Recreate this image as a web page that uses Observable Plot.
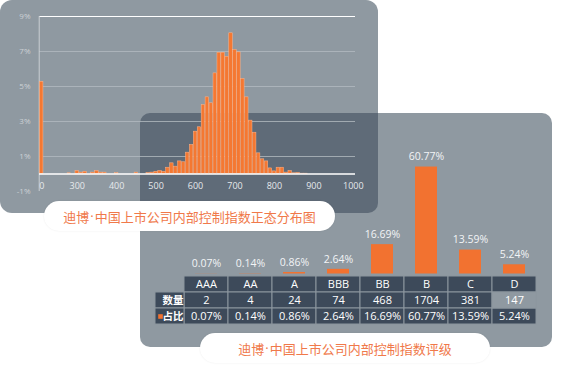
<!DOCTYPE html>
<html>
<head>
<meta charset="utf-8">
<script src="https://cdn.jsdelivr.net/npm/d3@7"></script>
<script src="https://cdn.jsdelivr.net/npm/@observablehq/plot@0.6"></script>
<style>
  html, body { margin: 0; padding: 0; }
  body { width: 581px; height: 370px; position: relative; background: #ffffff; overflow: hidden;
         font-family: "Open Sans", "Noto Sans", sans-serif; }
  .abs { position: absolute; }
  .pill { position: absolute; background: #ffffff; border-radius: 15px; height: 30px;
          display: flex; align-items: center; justify-content: center;
          font-family: "Noto Sans CJK SC", sans-serif; font-size: 13px; color: #f0794a;
          box-shadow: 0 0 2px rgba(0,0,0,0.08); }
  .dot { font-family: "Open Sans", sans-serif; padding: 0 1px; }
</style>
</head>
<body>
<div class="abs" style="left:140px;top:113px;width:412px;height:234px;border-radius:10px;background:#8f99a1"></div>
<div class="abs" style="left:0;top:0;width:378px;height:213px;border-radius:12px;background:#8f99a1"></div>
<div class="abs" style="left:140px;top:113px;width:238px;height:100px;border-radius:10px 0 10px 0;background:#5f6b78"></div>
<div id="hist" class="abs" style="left:0;top:0"></div>
<div id="bars" class="abs" style="left:140px;top:113px"></div>
<div id="table" class="abs" style="left:140px;top:275px"></div>
<div class="pill" style="left:44px;top:201px;width:291px">迪博<span class="dot">·</span>中国上市公司内部控制指数正态分布图</div>
<div class="pill" style="left:200px;top:333px;width:290px">迪博<span class="dot">·</span>中国上市公司内部控制指数评级</div>
<script>
// ---------- Histogram data (score bins, % of companies) ----------
const histBins = [0, 220, 230, 240, 250, 260, 270, 280, 290, 300, 310, 320, 330, 340, 350, 360, 370, 380, 390,
  400, 410, 420, 430, 440, 450, 460, 470, 480, 490, 500, 510, 520, 530, 540, 550, 560, 570, 580, 590,
  600, 610, 620, 630, 640, 650, 660, 670, 680, 690, 700, 710, 720, 730, 740, 750, 760, 770, 780, 790,
  800, 810, 820, 830, 840, 850, 860, 870, 880, 890, 900, 910, 920, 930, 940, 950, 960, 970, 980, 990, 1000];
const histPct = [5.27, 0, 0, 0, 0, 0, 0, 0.04, 0, 0.17, 0.08, 0.13, 0, 0.08, 0.17, 0.08, 0.08, 0, 0,
  0.05, 0, 0, 0, 0, 0.08, 0, 0, 0.06, 0.08, 0.13, 0.17, 0.13, 0.36, 0.61, 0.42, 0.72, 0.67, 1.22, 1.66,
  2.42, 2.67, 3.94, 4.38, 4.04, 5.75, 6.93, 6.93, 6.70, 8.04, 7.09, 6.95, 5.43, 4.38, 3.05, 2.36, 1.18, 0.84, 0.72, 0.32,
  0.15, 0.36, 0.36, 0.08, 0.17, 0.04, 0.06, 0.02, 0.02, 0, 0, 0, 0, 0, 0, 0, 0, 0, 0, 0, 0];
const histXTicks = [0, 300, 400, 500, 600, 700, 800, 900, 1000];
const histYTicks = [9, 7, 5, 3, 1, -1];
const histGrid = [1, 3, 5, 7];

// ---------- Rating data ----------
const grades = ["AAA", "AA", "A", "BBB", "BB", "B", "C", "D"];
const counts = [2, 4, 24, 74, 468, 1704, 381, 147];
const shares = [0.07, 0.14, 0.86, 2.64, 16.69, 60.77, 13.59, 5.24];
const rowKeys = ["grade", "数量", "占比"];
const rowLabels = ["数量", "占比"];

// ---------- Histogram ----------
const histData = histBins.map((b, i) => ({bin: b, pct: histPct[i]}));
const hist = Plot.plot({
  width: 378, height: 200,
  marginLeft: 39, marginRight: 23, marginTop: 16, marginBottom: 9,
  style: {background: "transparent", overflow: "visible", fontFamily: "'Open Sans', sans-serif"},
  x: {type: "band", domain: histBins, padding: 0.12, label: null},
  y: {domain: [-1, 9], label: null},
  marks: [
    Plot.ruleY(histGrid, {stroke: "#b3bac0", strokeWidth: 0.8}),
    Plot.ruleY([9], {stroke: "#ffffff", strokeWidth: 1.2}),
    Plot.ruleX([0], {dx: -2.5, stroke: "#c9ced3", strokeWidth: 1}),
    Plot.barY(histData, {x: "bin", y: "pct", fill: "#f47832", stroke: "#ffb48a", strokeWidth: 0.5}),
    Plot.ruleY([0], {stroke: "#ffffff", strokeWidth: 1.4}),
    Plot.axisX({ticks: histXTicks, tickSize: 0, tickPadding: -9, color: "#e6e9ec", fontSize: 9,
      tickFormat: d => String(d), label: null}),
    Plot.axisY({ticks: histYTicks, tickSize: 0, tickPadding: 9, color: "#ccd1d5", fontSize: 8,
      tickFormat: d => d + "%", label: null})
  ]
});
document.getElementById("hist").appendChild(hist);

// ---------- Rating bars ----------
const barData = grades.map((g, i) => ({grade: g, share: shares[i]}));
const bars = Plot.plot({
  width: 412, height: 162,
  marginLeft: 44, marginRight: 16, marginTop: 37.3, marginBottom: 1.5,
  style: {background: "transparent", overflow: "visible", fontFamily: "'Open Sans', sans-serif"},
  x: {domain: grades, paddingInner: 0.5, paddingOuter: 0.25, axis: null},
  y: {domain: [0, 70], axis: null},
  marks: [
    Plot.barY(barData, {x: "grade", y: "share", fill: "#f27230"}),
    Plot.text(barData, {x: "grade", y: "share", text: d => d.share.toFixed(2) + "%", dy: -10,
      fill: "#f2f4f6", fontSize: 10.5})
  ]
});
document.getElementById("bars").appendChild(bars);

// ---------- Table ----------
const cells = [];
grades.forEach((g, i) => {
  cells.push({grade: g, row: "grade", text: g});
  cells.push({grade: g, row: "数量", text: String(counts[i])});
  cells.push({grade: g, row: "占比", text: shares[i].toFixed(2) + "%"});
});
const labelCells = rowLabels.map(r => ({grade: grades[0], row: r, text: r}));
const filled = d => !(d.row === "数量" && d.grade === "D");
const table = Plot.plot({
  width: 412, height: 49,
  marginLeft: 44, marginRight: 16, marginTop: 0, marginBottom: 0,
  style: {background: "transparent", overflow: "visible", fontFamily: "'Open Sans', sans-serif"},
  x: {domain: grades, padding: 0, axis: null},
  y: {domain: rowKeys, padding: 0, axis: null},
  marks: [
    Plot.cell(cells, {x: "grade", y: "row", filter: filled, fill: "#3d4a5a", stroke: "#8c969e", strokeWidth: 1}),
    Plot.cell(cells, {x: "grade", y: "row", filter: d => !filled(d), fill: "#8f99a1", stroke: "#8c969e", strokeWidth: 1}),
    Plot.cell(labelCells, {x: "grade", y: "row", dx: -44, insetLeft: 15, fill: "#3d4a5a", stroke: "#8c969e", strokeWidth: 1}),
    Plot.text(cells, {x: "grade", y: "row", text: "text", fill: "#ffffff", fontSize: 11}),
    Plot.text(labelCells, {x: "grade", y: "row", text: "text", dx: -23, textAnchor: "end", fill: "#ffffff",
      fontSize: 10.5, fontWeight: "bold", fontFamily: "'Noto Sans CJK SC', sans-serif"}),
    Plot.dot(labelCells.filter(d => d.row === "占比"), {x: "grade", y: "row", dx: -46, symbol: "square", r: 2.6, fill: "#f27230"})
  ]
});
document.getElementById("table").appendChild(table);
</script>
</body>
</html>
